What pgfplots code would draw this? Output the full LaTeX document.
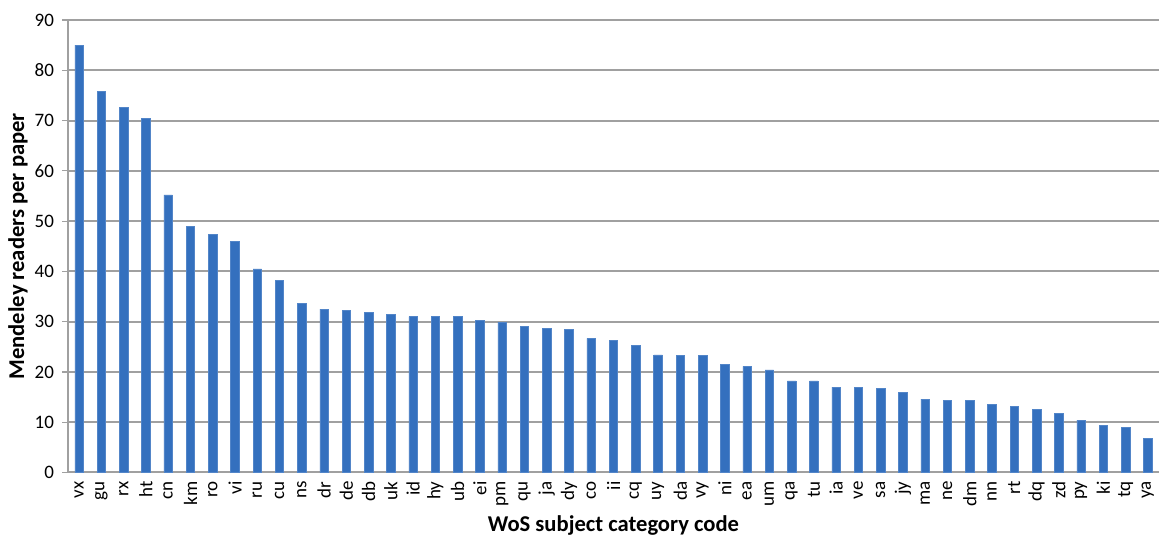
\documentclass[border=0pt]{standalone}
\usepackage{fontspec}
\setmainfont{Carlito}
\usepackage{pgfplots}
\pgfplotsset{compat=1.18}
\definecolor{barblue}{RGB}{52,112,190}
\definecolor{gridgray}{RGB}{160,160,160}
\definecolor{axgray}{RGB}{160,160,160}
\begin{document}
\begin{tikzpicture}
\begin{axis}[
  name=ax,
  scale only axis,
  width=545.5pt, height=226.25pt,
  xmin=-0.5, xmax=48.5,
  ymin=0, ymax=90,
  ytick={0,10,...,90},
  ymajorgrids,
  grid style={gridgray, line width=1pt},
  axis x line*=bottom,
  axis y line*=left,
  axis line style={axgray, line width=0.6pt},
  xtick={0,...,48},
  xticklabels={vx,gu,rx,ht,cn,km,ro,vi,ru,cu,ns,dr,de,db,uk,id,hy,ub,ei,pm,qu,ja,dy,co,ii,cq,uy,da,vy,ni,ea,um,qa,tu,ia,ve,sa,jy,ma,ne,dm,nn,rt,dq,zd,py,ki,tq,ya},
  xtick style={draw=none},
  extra x ticks={-0.5,0.5,...,48.5},
  extra x tick labels={},
  extra x tick style={grid=none, tick align=outside, major tick length=2.8pt, tick style={draw=axgray, line width=0.6pt}},
  ytick style={axgray, line width=0.6pt},
  tick align=outside,
  major tick length=2.8pt,
  xticklabel style={rotate=90, anchor=east, font=\fontsize{9.5}{11}\selectfont, inner sep=1.5pt},
  yticklabel style={font=\fontsize{9.5}{11}\selectfont, inner sep=1pt, xshift=-3pt},
  /pgf/number format/assume math mode=true,
  xlabel={\textbf{WoS subject category code}},
  ylabel={\textbf{Mendeley readers per paper}},
  xlabel style={font=\fontsize{11.3}{13}\selectfont, at={(axis description cs:0.5,-0.117)}, anchor=center},
  ylabel style={font=\fontsize{11.3}{13}\selectfont, at={(axis description cs:-0.0458,0.5)}, anchor=center},
  clip=false,
]
\addplot[ybar, bar width=4.25pt, fill=barblue, draw=barblue!85!white, line width=0.3pt] coordinates {
(0,85.0) (1,75.8) (2,72.6) (3,70.5) (4,55.2) (5,48.9) (6,47.3) (7,46.0) (8,40.5) (9,38.2)
(10,33.7) (11,32.5) (12,32.2) (13,31.9) (14,31.4) (15,31.0) (16,31.0) (17,31.0) (18,30.3) (19,29.9)
(20,29.1) (21,28.6) (22,28.4) (23,26.7) (24,26.3) (25,25.3) (26,23.4) (27,23.3) (28,23.3) (29,21.5)
(30,21.1) (31,20.4) (32,18.2) (33,18.2) (34,17.0) (35,17.0) (36,16.7) (37,15.9) (38,14.6) (39,14.4)
(40,14.4) (41,13.5) (42,13.2) (43,12.5) (44,11.8) (45,10.4) (46,9.3) (47,8.9) (48,6.8)
};
\end{axis}
\pgfresetboundingbox
\path ([shift={(-34pt,-32.75pt)}]ax.south west) rectangle ([shift={(2.5pt,10pt)}]ax.north east);
\end{tikzpicture}
\end{document}
